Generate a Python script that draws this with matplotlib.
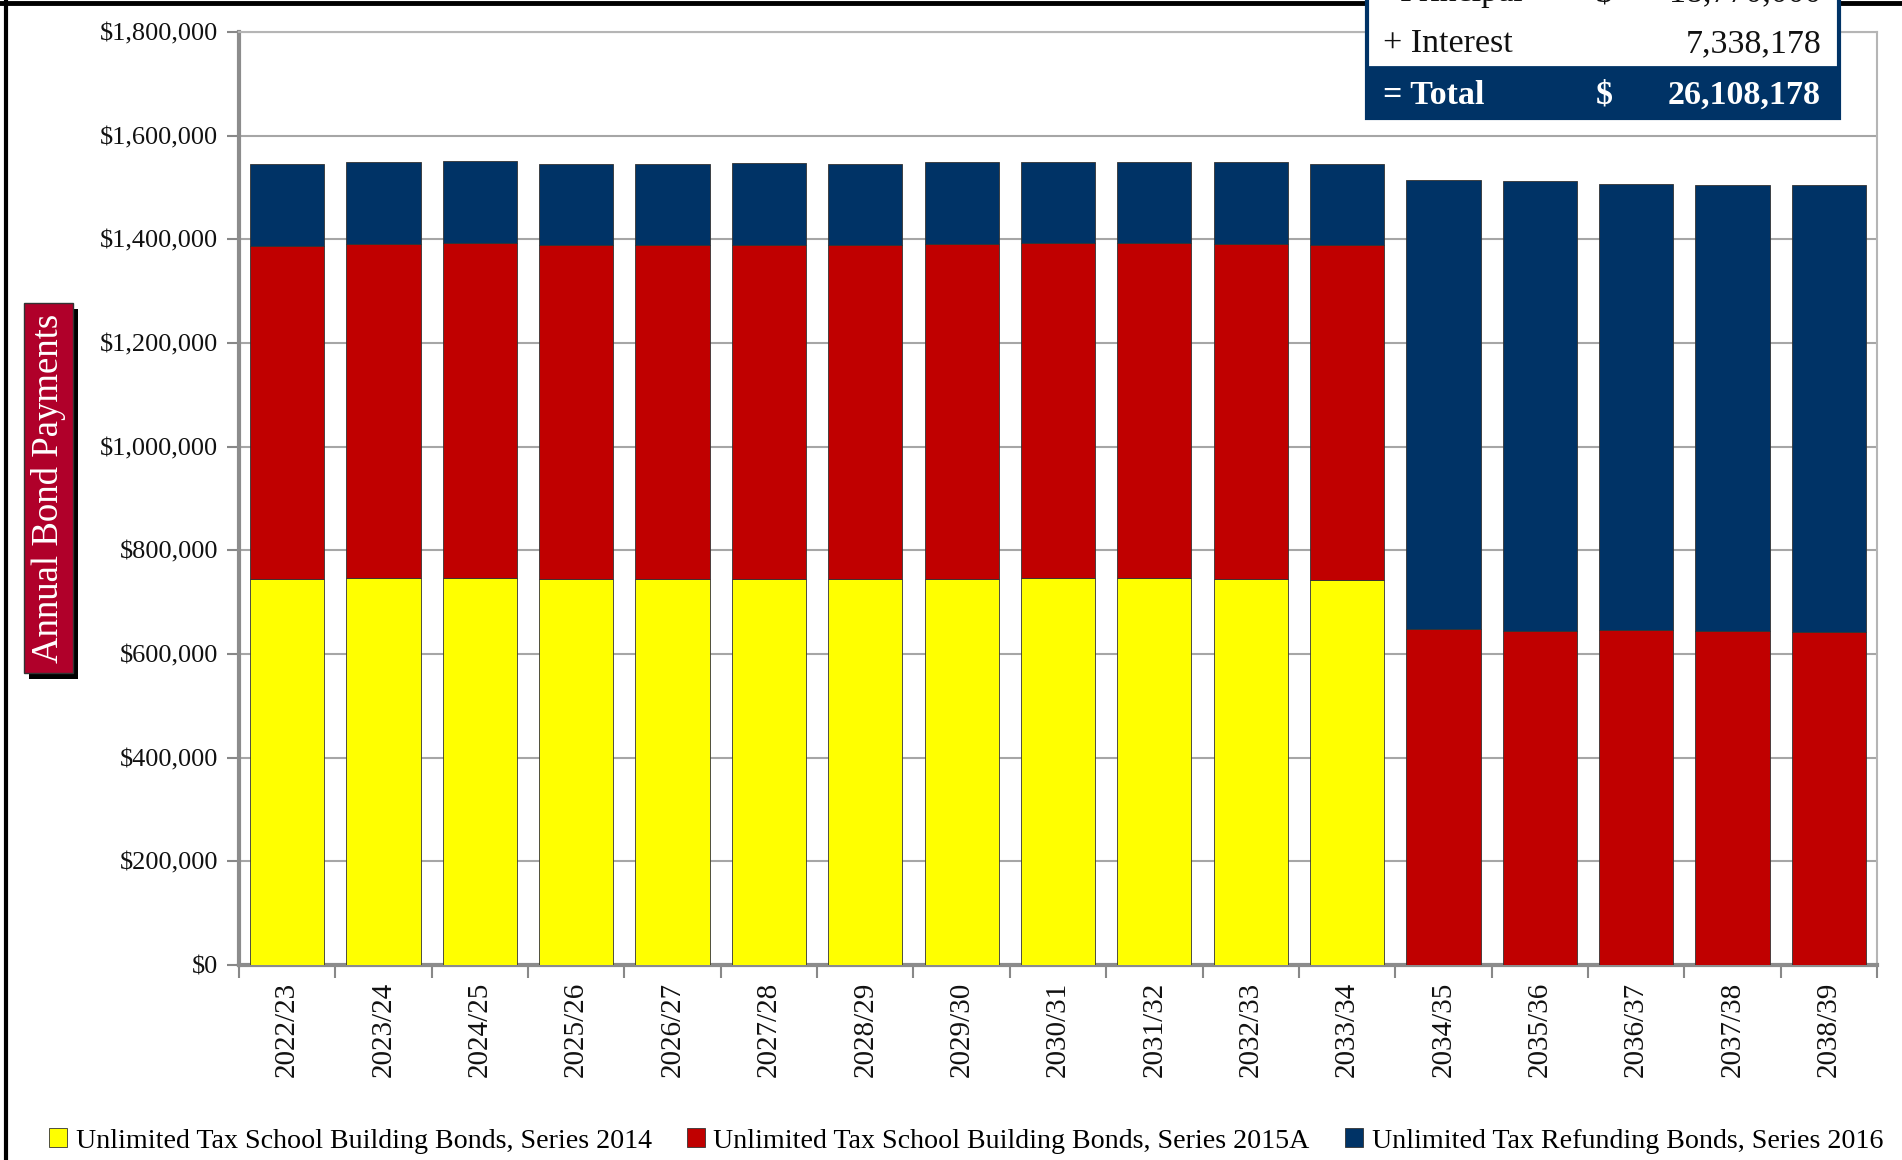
import matplotlib
matplotlib.use("Agg")
import matplotlib.pyplot as plt
from matplotlib.patches import Rectangle
from matplotlib.lines import Line2D
from matplotlib.ticker import FuncFormatter, FixedLocator
import numpy as np

# ---------------- data ----------------
years = ["2022/23", "2023/24", "2024/25", "2025/26", "2026/27", "2027/28",
         "2028/29", "2029/30", "2030/31", "2031/32", "2032/33", "2033/34",
         "2034/35", "2035/36", "2036/37", "2037/38", "2038/39"]
series_2014 = [744000, 747200, 746000, 744700, 744000, 745300, 744700, 744000,
               746000, 746000, 745300, 742700, 0, 0, 0, 0, 0]
series_2015A = [643100, 644400, 647600, 643700, 644400, 644400, 643700, 647600,
                646300, 646300, 645000, 645700, 647500, 644300, 645600, 644300, 641700]
series_2016 = [157700, 157700, 157600, 157000, 157700, 157000, 157700, 157000,
               156300, 157600, 158300, 156400, 866400, 867700, 861200, 860600, 863200]
labels = ["Unlimited Tax School Building Bonds, Series 2014",
          "Unlimited Tax School Building Bonds, Series 2015A",
          "Unlimited Tax Refunding Bonds, Series 2016"]
yticks = [0, 200000, 400000, 600000, 800000, 1000000, 1200000, 1400000, 1600000, 1800000]
table_rows = [("  Principal", "$", "18,770,000"),
              ("+ Interest", "", "7,338,178"),
              ("= Total", "$", "26,108,178")]

# ---------------- style ----------------
FONT = ["Liberation Serif", "DejaVu Serif"]
plt.rcParams["font.family"] = FONT
YELLOW, RED, NAVY = "#FFFF00", "#C00000", "#003366"

W, H = 1902, 1160
fig = plt.figure(figsize=(W / 100, H / 100), dpi=100)
ax = fig.add_axes([239 / W, 1 - 965 / H, (1877 - 239) / W, (965 - 32) / H])

x = np.arange(len(years))
b1 = np.array(series_2014)
b2 = np.array(series_2015A)
b3 = np.array(series_2016)
bw = 0.77
h1 = ax.bar(x, b1, bw, color=YELLOW, edgecolor="#333333", linewidth=0.6, zorder=3)
h2 = ax.bar(x, b2, bw, bottom=b1, color=RED, edgecolor="#333333", linewidth=0.6, zorder=3)
h3 = ax.bar(x, b3, bw, bottom=b1 + b2, color=NAVY, edgecolor="#333333", linewidth=0.6, zorder=3)

ax.set_xlim(-0.5, len(years) - 0.5)
ax.set_ylim(0, 1800000)
ax.set_yticks(yticks)
ax.yaxis.set_major_formatter(FuncFormatter(lambda v, p: "${:,.0f}".format(v)))
ax.grid(axis="y", color="#A6A6A6", linewidth=1.5, zorder=0)
ax.set_axisbelow(True)

ax.set_xticks(x)
ax.set_xticklabels(years, rotation=90, fontsize=21, color="#111111")
ax.xaxis.set_minor_locator(FixedLocator(np.arange(-0.5, len(years), 1.0)))
ax.tick_params(axis="x", which="major", length=0, pad=12)
ax.tick_params(axis="x", which="minor", length=9, width=1.5, color="#888888", direction="out")
ax.tick_params(axis="y", which="major", length=9, width=1.5, color="#888888",
               labelsize=19, labelcolor="#111111", pad=6)

for s in ["left", "bottom"]:
    ax.spines[s].set_color("#8C8C8C")
    ax.spines[s].set_linewidth(3)
for s in ["right", "top"]:
    ax.spines[s].set_color("#B5B5B5")
    ax.spines[s].set_linewidth(1.5)

# ---------------- y label box ----------------
fig.patches.append(Rectangle((29 / W, 1 - 679 / H), 49 / W, 370 / H,
                             transform=fig.transFigure, facecolor="black",
                             edgecolor="none", zorder=1))
fig.patches.append(Rectangle((24 / W, 1 - 673 / H), 49 / W, 370 / H,
                             transform=fig.transFigure, facecolor="#B0002A",
                             edgecolor="#333333", linewidth=1, zorder=2))
fig.text(48.5 / W, 1 - 488 / H, "Annual Bond Payments", rotation=90, color="white",
         fontsize=26.5, ha="center", va="center", zorder=3)

# ---------------- legend ----------------
fig.legend([h1, h2, h3], labels, ncol=3, loc="center",
           bbox_to_anchor=(966 / W, 1 - 1141 / H), frameon=False, fontsize=20.2,
           handlelength=0.65, handleheight=0.65, handletextpad=0.3,
           columnspacing=1.25, borderaxespad=0)

# ---------------- figure border (left and top) ----------------
fig.add_artist(Line2D([6 / W, 6 / W], [0, 1], transform=fig.transFigure,
                      color="black", linewidth=3, zorder=5))
fig.add_artist(Line2D([0, 1], [1 - 2.5 / H, 1 - 2.5 / H], transform=fig.transFigure,
                      color="black", linewidth=3.5, zorder=5))

# ---------------- summary table (top right) ----------------
tx0, tx1 = 1367, 1839
row_centers = [-7, 44, 95]
fig.patches.append(Rectangle((tx0 / W, 1 - 118 / H), (tx1 - tx0) / W, 130 / H,
                             transform=fig.transFigure, facecolor="white",
                             edgecolor=NAVY, linewidth=3, zorder=10))
fig.patches.append(Rectangle((tx0 / W, 1 - 118 / H), (tx1 - tx0) / W, 51 / H,
                             transform=fig.transFigure, facecolor=NAVY,
                             edgecolor=NAVY, linewidth=2, zorder=11))
for i, (lab, cur, val) in enumerate(table_rows):
    yc = 1 - row_centers[i] / H
    bold = i == 2
    col = "white" if bold else "#111111"
    wt = "bold" if bold else "normal"
    fig.text(1383 / W, yc, lab, fontsize=24.5, color=col, weight=wt,
             ha="left", va="center", zorder=12)
    if cur:
        fig.text(1604 / W, yc, cur, fontsize=24.5, color=col, weight=wt,
                 ha="center", va="center", zorder=12)
    fig.text(1821 / W, yc, val, fontsize=24.5, color=col, weight=wt,
             ha="right", va="center", zorder=12)

fig.savefig("out.png", dpi=100)
